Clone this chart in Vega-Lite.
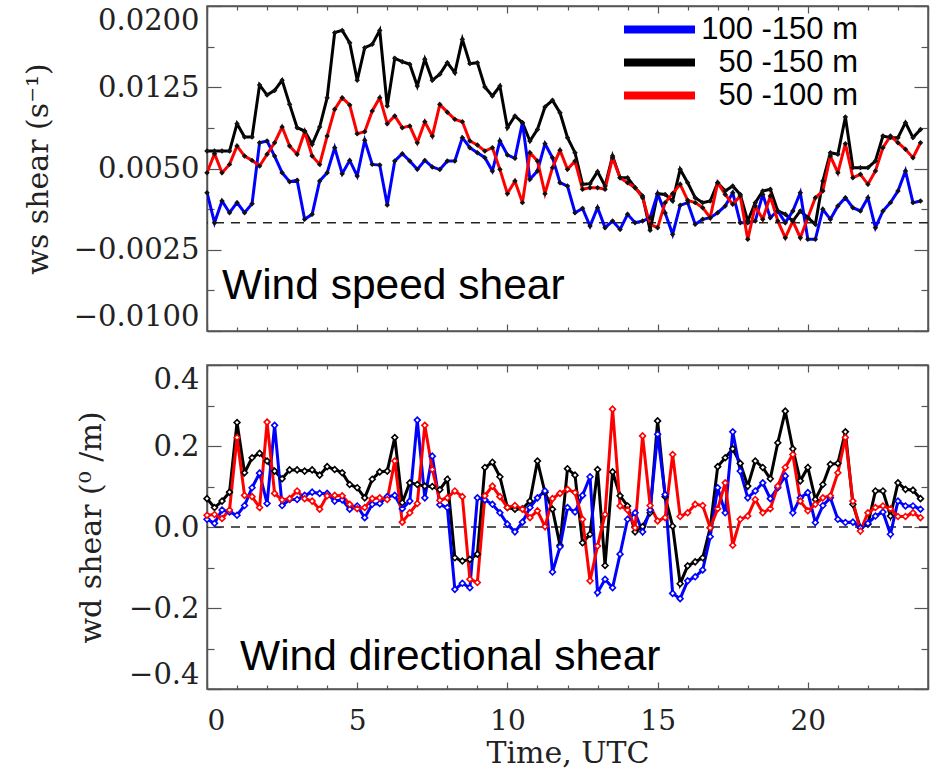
{
  "$schema": "https://vega.github.io/schema/vega-lite/v6.json",
  "background": "white",
  "padding": {"left": 22, "top": 4, "right": 5, "bottom": 5},
  "config": {
    "view": {"stroke": "#555", "strokeWidth": 1.5},
    "axis": {
      "grid": false,
      "domainColor": "#555",
      "domainWidth": 1.5,
      "tickColor": "#555",
      "tickWidth": 1.2,
      "labelFont": "DejaVu Serif",
      "labelFontSize": 29,
      "labelColor": "#222",
      "labelOverlap": false,
      "labelBound": false,
      "titleFont": "DejaVu Serif",
      "titleFontSize": 30,
      "titleFontWeight": "normal",
      "titleColor": "#222"
    }
  },
  "data": {
    "values": [
      {"t":0,"pair":"50 -150 m","ws":0.00661,"wd":0.07},
      {"t":0.25,"pair":"50 -150 m","ws":0.00661,"wd":0.048},
      {"t":0.5,"pair":"50 -150 m","ws":0.00661,"wd":0.064},
      {"t":0.75,"pair":"50 -150 m","ws":0.00661,"wd":0.086},
      {"t":1,"pair":"50 -150 m","ws":0.00914,"wd":0.258},
      {"t":1.25,"pair":"50 -150 m","ws":0.00791,"wd":0.134},
      {"t":1.5,"pair":"50 -150 m","ws":0.00791,"wd":0.171},
      {"t":1.75,"pair":"50 -150 m","ws":0.01271,"wd":0.182},
      {"t":2,"pair":"50 -150 m","ws":0.01178,"wd":0.163},
      {"t":2.25,"pair":"50 -150 m","ws":0.01221,"wd":0.138},
      {"t":2.5,"pair":"50 -150 m","ws":0.01314,"wd":0.119},
      {"t":2.75,"pair":"50 -150 m","ws":0.01092,"wd":0.141},
      {"t":3,"pair":"50 -150 m","ws":0.00877,"wd":0.141},
      {"t":3.25,"pair":"50 -150 m","ws":0.00846,"wd":0.138},
      {"t":3.5,"pair":"50 -150 m","ws":0.00723,"wd":0.141},
      {"t":3.75,"pair":"50 -150 m","ws":0.00883,"wd":0.128},
      {"t":4,"pair":"50 -150 m","ws":0.01154,"wd":0.149},
      {"t":4.25,"pair":"50 -150 m","ws":0.01754,"wd":0.142},
      {"t":4.5,"pair":"50 -150 m","ws":0.01775,"wd":0.134},
      {"t":4.75,"pair":"50 -150 m","ws":0.01661,"wd":0.105},
      {"t":5,"pair":"50 -150 m","ws":0.01314,"wd":0.097},
      {"t":5.25,"pair":"50 -150 m","ws":0.01615,"wd":0.072},
      {"t":5.5,"pair":"50 -150 m","ws":0.01646,"wd":0.118},
      {"t":5.75,"pair":"50 -150 m","ws":0.01775,"wd":0.136},
      {"t":6,"pair":"50 -150 m","ws":0.01077,"wd":0.138},
      {"t":6.25,"pair":"50 -150 m","ws":0.01517,"wd":0.221},
      {"t":6.5,"pair":"50 -150 m","ws":0.01486,"wd":0.06},
      {"t":6.75,"pair":"50 -150 m","ws":0.01462,"wd":0.109},
      {"t":7,"pair":"50 -150 m","ws":0.01261,"wd":0.105},
      {"t":7.25,"pair":"50 -150 m","ws":0.01508,"wd":0.101},
      {"t":7.5,"pair":"50 -150 m","ws":0.01314,"wd":0.1},
      {"t":7.75,"pair":"50 -150 m","ws":0.0137,"wd":0.092},
      {"t":8,"pair":"50 -150 m","ws":0.01477,"wd":0.118},
      {"t":8.25,"pair":"50 -150 m","ws":0.01384,"wd":-0.076},
      {"t":8.5,"pair":"50 -150 m","ws":0.01692,"wd":-0.084},
      {"t":8.75,"pair":"50 -150 m","ws":0.01468,"wd":-0.08},
      {"t":9,"pair":"50 -150 m","ws":0.01477,"wd":-0.067},
      {"t":9.25,"pair":"50 -150 m","ws":0.01252,"wd":0.147},
      {"t":9.5,"pair":"50 -150 m","ws":0.01169,"wd":0.16},
      {"t":9.75,"pair":"50 -150 m","ws":0.01261,"wd":0.124},
      {"t":10,"pair":"50 -150 m","ws":0.00877,"wd":0.048},
      {"t":10.25,"pair":"50 -150 m","ws":0.00985,"wd":0.044},
      {"t":10.5,"pair":"50 -150 m","ws":0.00923,"wd":0.045},
      {"t":10.75,"pair":"50 -150 m","ws":0.00754,"wd":0.064},
      {"t":11,"pair":"50 -150 m","ws":0.00861,"wd":0.163},
      {"t":11.25,"pair":"50 -150 m","ws":0.01068,"wd":0.085},
      {"t":11.5,"pair":"50 -150 m","ws":0.01129,"wd":0.044},
      {"t":11.75,"pair":"50 -150 m","ws":0.01015,"wd":-0.045},
      {"t":12,"pair":"50 -150 m","ws":0.00785,"wd":0.144},
      {"t":12.25,"pair":"50 -150 m","ws":0.00646,"wd":0.128},
      {"t":12.5,"pair":"50 -150 m","ws":0.00354,"wd":-0.039},
      {"t":12.75,"pair":"50 -150 m","ws":0.0036,"wd":-0.018},
      {"t":13,"pair":"50 -150 m","ws":0.00471,"wd":0.142},
      {"t":13.25,"pair":"50 -150 m","ws":0.00338,"wd":-0.095},
      {"t":13.5,"pair":"50 -150 m","ws":0.00615,"wd":0.136},
      {"t":13.75,"pair":"50 -150 m","ws":0.00415,"wd":0.077},
      {"t":14,"pair":"50 -150 m","ws":0.00415,"wd":0.052},
      {"t":14.25,"pair":"50 -150 m","ws":0.00323,"wd":-0.012},
      {"t":14.5,"pair":"50 -150 m","ws":0.00246,"wd":0.001},
      {"t":14.75,"pair":"50 -150 m","ws":-0.0007,"wd":0.035},
      {"t":15,"pair":"50 -150 m","ws":0.00268,"wd":0.262},
      {"t":15.25,"pair":"50 -150 m","ws":0.00261,"wd":0.075},
      {"t":15.5,"pair":"50 -150 m","ws":0.002,"wd":0.002},
      {"t":15.75,"pair":"50 -150 m","ws":0.00492,"wd":-0.14},
      {"t":16,"pair":"50 -150 m","ws":0.00369,"wd":-0.096},
      {"t":16.25,"pair":"50 -150 m","ws":0.00231,"wd":-0.086},
      {"t":16.5,"pair":"50 -150 m","ws":0.00185,"wd":-0.076},
      {"t":16.75,"pair":"50 -150 m","ws":0.002,"wd":-0.002},
      {"t":17,"pair":"50 -150 m","ws":0.00369,"wd":0.149},
      {"t":17.25,"pair":"50 -150 m","ws":0.00292,"wd":0.171},
      {"t":17.5,"pair":"50 -150 m","ws":0.00338,"wd":0.193},
      {"t":17.75,"pair":"50 -150 m","ws":0.00261,"wd":0.157},
      {"t":18,"pair":"50 -150 m","ws":0.00015,"wd":0.101},
      {"t":18.25,"pair":"50 -150 m","ws":0.00185,"wd":0.163},
      {"t":18.5,"pair":"50 -150 m","ws":0.00292,"wd":0.147},
      {"t":18.75,"pair":"50 -150 m","ws":0.00308,"wd":0.119},
      {"t":19,"pair":"50 -150 m","ws":0.00108,"wd":0.208},
      {"t":19.25,"pair":"50 -150 m","ws":0.00077,"wd":0.286},
      {"t":19.5,"pair":"50 -150 m","ws":0.00015,"wd":0.193},
      {"t":19.75,"pair":"50 -150 m","ws":0.00108,"wd":0.114},
      {"t":20,"pair":"50 -150 m","ws":0.00046,"wd":0.147},
      {"t":20.25,"pair":"50 -150 m","ws":-0.00015,"wd":0.068},
      {"t":20.5,"pair":"50 -150 m","ws":0.00385,"wd":0.105},
      {"t":20.75,"pair":"50 -150 m","ws":0.00646,"wd":0.155},
      {"t":21,"pair":"50 -150 m","ws":0.00631,"wd":0.157},
      {"t":21.25,"pair":"50 -150 m","ws":0.00975,"wd":0.235},
      {"t":21.5,"pair":"50 -150 m","ws":0.00508,"wd":0.056},
      {"t":21.75,"pair":"50 -150 m","ws":0.00508,"wd":-0.002},
      {"t":22,"pair":"50 -150 m","ws":0.00508,"wd":0.007},
      {"t":22.25,"pair":"50 -150 m","ws":0.00569,"wd":0.089},
      {"t":22.5,"pair":"50 -150 m","ws":0.008,"wd":0.089},
      {"t":22.75,"pair":"50 -150 m","ws":0.00785,"wd":0.027},
      {"t":23,"pair":"50 -150 m","ws":0.00785,"wd":0.109},
      {"t":23.25,"pair":"50 -150 m","ws":0.00923,"wd":0.093},
      {"t":23.5,"pair":"50 -150 m","ws":0.00785,"wd":0.091},
      {"t":23.75,"pair":"50 -150 m","ws":0.00861,"wd":0.07},

      {"t":0,"pair":"100 -150 m","ws":0.00277,"wd":0.019},
      {"t":0.25,"pair":"100 -150 m","ws":0.0,"wd":0.009},
      {"t":0.5,"pair":"100 -150 m","ws":0.002,"wd":0.042},
      {"t":0.75,"pair":"100 -150 m","ws":0.00092,"wd":0.037},
      {"t":1,"pair":"100 -150 m","ws":0.00185,"wd":0.029},
      {"t":1.25,"pair":"100 -150 m","ws":0.00092,"wd":0.053},
      {"t":1.5,"pair":"100 -150 m","ws":0.00175,"wd":0.097},
      {"t":1.75,"pair":"100 -150 m","ws":0.00738,"wd":0.133},
      {"t":2,"pair":"100 -150 m","ws":0.00754,"wd":0.058},
      {"t":2.25,"pair":"100 -150 m","ws":0.00615,"wd":0.251},
      {"t":2.5,"pair":"100 -150 m","ws":0.00461,"wd":0.053},
      {"t":2.75,"pair":"100 -150 m","ws":0.00378,"wd":0.068},
      {"t":3,"pair":"100 -150 m","ws":0.00391,"wd":0.068},
      {"t":3.25,"pair":"100 -150 m","ws":0.00031,"wd":0.078},
      {"t":3.5,"pair":"100 -150 m","ws":0.00077,"wd":0.086},
      {"t":3.75,"pair":"100 -150 m","ws":0.00385,"wd":0.083},
      {"t":4,"pair":"100 -150 m","ws":0.00461,"wd":0.083},
      {"t":4.25,"pair":"100 -150 m","ws":0.00692,"wd":0.064},
      {"t":4.5,"pair":"100 -150 m","ws":0.00452,"wd":0.067},
      {"t":4.75,"pair":"100 -150 m","ws":0.00575,"wd":0.044},
      {"t":5,"pair":"100 -150 m","ws":0.00431,"wd":0.052},
      {"t":5.25,"pair":"100 -150 m","ws":0.0076,"wd":0.023},
      {"t":5.5,"pair":"100 -150 m","ws":0.00538,"wd":0.056},
      {"t":5.75,"pair":"100 -150 m","ws":0.00532,"wd":0.058},
      {"t":6,"pair":"100 -150 m","ws":0.00163,"wd":0.075},
      {"t":6.25,"pair":"100 -150 m","ws":0.00569,"wd":0.078},
      {"t":6.5,"pair":"100 -150 m","ws":0.00637,"wd":0.045},
      {"t":6.75,"pair":"100 -150 m","ws":0.00569,"wd":0.064},
      {"t":7,"pair":"100 -150 m","ws":0.00492,"wd":0.264},
      {"t":7.25,"pair":"100 -150 m","ws":0.00575,"wd":0.072},
      {"t":7.5,"pair":"100 -150 m","ws":0.00514,"wd":0.175},
      {"t":7.75,"pair":"100 -150 m","ws":0.0049,"wd":0.055},
      {"t":8,"pair":"100 -150 m","ws":0.0057,"wd":0.048},
      {"t":8.25,"pair":"100 -150 m","ws":0.00569,"wd":-0.154},
      {"t":8.5,"pair":"100 -150 m","ws":0.00785,"wd":-0.139},
      {"t":8.75,"pair":"100 -150 m","ws":0.00692,"wd":-0.15},
      {"t":9,"pair":"100 -150 m","ws":0.00646,"wd":0.072},
      {"t":9.25,"pair":"100 -150 m","ws":0.006,"wd":0.067},
      {"t":9.5,"pair":"100 -150 m","ws":0.00477,"wd":0.056},
      {"t":9.75,"pair":"100 -150 m","ws":0.00754,"wd":0.035},
      {"t":10,"pair":"100 -150 m","ws":0.00625,"wd":0.007},
      {"t":10.25,"pair":"100 -150 m","ws":0.00594,"wd":-0.012},
      {"t":10.5,"pair":"100 -150 m","ws":0.00923,"wd":0.012},
      {"t":10.75,"pair":"100 -150 m","ws":0.004,"wd":0.048},
      {"t":11,"pair":"100 -150 m","ws":0.00477,"wd":0.072},
      {"t":11.25,"pair":"100 -150 m","ws":0.00729,"wd":0.089},
      {"t":11.5,"pair":"100 -150 m","ws":0.006,"wd":-0.111},
      {"t":11.75,"pair":"100 -150 m","ws":0.00369,"wd":-0.049},
      {"t":12,"pair":"100 -150 m","ws":0.00338,"wd":0.048},
      {"t":12.25,"pair":"100 -150 m","ws":0.00092,"wd":0.037},
      {"t":12.5,"pair":"100 -150 m","ws":0.00132,"wd":0.078},
      {"t":12.75,"pair":"100 -150 m","ws":-0.00031,"wd":0.124},
      {"t":13,"pair":"100 -150 m","ws":0.00138,"wd":-0.162},
      {"t":13.25,"pair":"100 -150 m","ws":-0.00046,"wd":-0.129},
      {"t":13.5,"pair":"100 -150 m","ws":0.00015,"wd":-0.15},
      {"t":13.75,"pair":"100 -150 m","ws":-0.00062,"wd":-0.067},
      {"t":14,"pair":"100 -150 m","ws":0.00077,"wd":0.019},
      {"t":14.25,"pair":"100 -150 m","ws":0.0,"wd":0.035},
      {"t":14.5,"pair":"100 -150 m","ws":0.00015,"wd":-0.012},
      {"t":14.75,"pair":"100 -150 m","ws":0.00046,"wd":0.042},
      {"t":15,"pair":"100 -150 m","ws":0.00268,"wd":0.229},
      {"t":15.25,"pair":"100 -150 m","ws":0.0009,"wd":0.08},
      {"t":15.5,"pair":"100 -150 m","ws":-0.00108,"wd":-0.164},
      {"t":15.75,"pair":"100 -150 m","ws":0.0016,"wd":-0.177},
      {"t":16,"pair":"100 -150 m","ws":0.00185,"wd":-0.133},
      {"t":16.25,"pair":"100 -150 m","ws":-0.00015,"wd":-0.123},
      {"t":16.5,"pair":"100 -150 m","ws":0.00031,"wd":-0.106},
      {"t":16.75,"pair":"100 -150 m","ws":0.00046,"wd":-0.024},
      {"t":17,"pair":"100 -150 m","ws":0.00092,"wd":0.097},
      {"t":17.25,"pair":"100 -150 m","ws":0.00154,"wd":0.035},
      {"t":17.5,"pair":"100 -150 m","ws":0.00277,"wd":0.235},
      {"t":17.75,"pair":"100 -150 m","ws":0.0,"wd":0.138},
      {"t":18,"pair":"100 -150 m","ws":0.0,"wd":0.072},
      {"t":18.25,"pair":"100 -150 m","ws":0.00015,"wd":0.089},
      {"t":18.5,"pair":"100 -150 m","ws":0.00261,"wd":0.109},
      {"t":18.75,"pair":"100 -150 m","ws":0.00046,"wd":0.07},
      {"t":19,"pair":"100 -150 m","ws":0.00108,"wd":0.097},
      {"t":19.25,"pair":"100 -150 m","ws":0.0,"wd":0.126},
      {"t":19.5,"pair":"100 -150 m","ws":0.00108,"wd":0.035},
      {"t":19.75,"pair":"100 -150 m","ws":0.00277,"wd":0.072},
      {"t":20,"pair":"100 -150 m","ws":-0.00154,"wd":0.085},
      {"t":20.25,"pair":"100 -150 m","ws":-0.00154,"wd":0.011},
      {"t":20.5,"pair":"100 -150 m","ws":0.00123,"wd":0.053},
      {"t":20.75,"pair":"100 -150 m","ws":0.00031,"wd":0.072},
      {"t":21,"pair":"100 -150 m","ws":0.00154,"wd":0.019},
      {"t":21.25,"pair":"100 -150 m","ws":0.00231,"wd":0.011},
      {"t":21.5,"pair":"100 -150 m","ws":0.00138,"wd":0.012},
      {"t":21.75,"pair":"100 -150 m","ws":0.00108,"wd":-0.002},
      {"t":22,"pair":"100 -150 m","ws":0.00231,"wd":0.009},
      {"t":22.25,"pair":"100 -150 m","ws":-0.00046,"wd":0.027},
      {"t":22.5,"pair":"100 -150 m","ws":0.00108,"wd":0.037},
      {"t":22.75,"pair":"100 -150 m","ws":0.00185,"wd":-0.018},
      {"t":23,"pair":"100 -150 m","ws":0.00292,"wd":0.064},
      {"t":23.25,"pair":"100 -150 m","ws":0.00477,"wd":0.052},
      {"t":23.5,"pair":"100 -150 m","ws":0.00185,"wd":0.052},
      {"t":23.75,"pair":"100 -150 m","ws":0.002,"wd":0.044},

      {"t":0,"pair":"50 -100 m","ws":0.00461,"wd":0.029},
      {"t":0.25,"pair":"50 -100 m","ws":0.00637,"wd":0.031},
      {"t":0.5,"pair":"50 -100 m","ws":0.00461,"wd":0.021},
      {"t":0.75,"pair":"50 -100 m","ws":0.00538,"wd":0.042},
      {"t":1,"pair":"50 -100 m","ws":0.00708,"wd":0.221},
      {"t":1.25,"pair":"50 -100 m","ws":0.00615,"wd":0.078},
      {"t":1.5,"pair":"50 -100 m","ws":0.00575,"wd":0.075},
      {"t":1.75,"pair":"50 -100 m","ws":0.00523,"wd":0.048},
      {"t":2,"pair":"50 -100 m","ws":0.00631,"wd":0.259},
      {"t":2.25,"pair":"50 -100 m","ws":0.00738,"wd":0.083},
      {"t":2.5,"pair":"50 -100 m","ws":0.00883,"wd":0.067},
      {"t":2.75,"pair":"50 -100 m","ws":0.00708,"wd":0.07},
      {"t":3,"pair":"50 -100 m","ws":0.00631,"wd":0.089},
      {"t":3.25,"pair":"50 -100 m","ws":0.0084,"wd":0.07},
      {"t":3.5,"pair":"50 -100 m","ws":0.00615,"wd":0.064},
      {"t":3.75,"pair":"50 -100 m","ws":0.00538,"wd":0.044},
      {"t":4,"pair":"50 -100 m","ws":0.008,"wd":0.077},
      {"t":4.25,"pair":"50 -100 m","ws":0.01046,"wd":0.078},
      {"t":4.5,"pair":"50 -100 m","ws":0.01154,"wd":0.077},
      {"t":4.75,"pair":"50 -100 m","ws":0.01086,"wd":0.056},
      {"t":5,"pair":"50 -100 m","ws":0.00821,"wd":0.045},
      {"t":5.25,"pair":"50 -100 m","ws":0.0084,"wd":0.048},
      {"t":5.5,"pair":"50 -100 m","ws":0.01031,"wd":0.07},
      {"t":5.75,"pair":"50 -100 m","ws":0.01154,"wd":0.072},
      {"t":6,"pair":"50 -100 m","ws":0.00914,"wd":0.068},
      {"t":6.25,"pair":"50 -100 m","ws":0.00985,"wd":0.163},
      {"t":6.5,"pair":"50 -100 m","ws":0.00877,"wd":0.012},
      {"t":6.75,"pair":"50 -100 m","ws":0.00892,"wd":0.035},
      {"t":7,"pair":"50 -100 m","ws":0.00738,"wd":0.058},
      {"t":7.25,"pair":"50 -100 m","ws":0.00932,"wd":0.251},
      {"t":7.5,"pair":"50 -100 m","ws":0.008,"wd":0.142},
      {"t":7.75,"pair":"50 -100 m","ws":0.0109,"wd":0.066},
      {"t":8,"pair":"50 -100 m","ws":0.0102,"wd":0.072},
      {"t":8.25,"pair":"50 -100 m","ws":0.00954,"wd":0.089},
      {"t":8.5,"pair":"50 -100 m","ws":0.00932,"wd":0.075},
      {"t":8.75,"pair":"50 -100 m","ws":0.00754,"wd":-0.129},
      {"t":9,"pair":"50 -100 m","ws":0.00717,"wd":-0.137},
      {"t":9.25,"pair":"50 -100 m","ws":0.00661,"wd":0.077},
      {"t":9.5,"pair":"50 -100 m","ws":0.00692,"wd":0.101},
      {"t":9.75,"pair":"50 -100 m","ws":0.00492,"wd":0.075},
      {"t":10,"pair":"50 -100 m","ws":0.00268,"wd":0.048},
      {"t":10.25,"pair":"50 -100 m","ws":0.00385,"wd":0.053},
      {"t":10.5,"pair":"50 -100 m","ws":0.00185,"wd":0.044},
      {"t":10.75,"pair":"50 -100 m","ws":0.00646,"wd":0.023},
      {"t":11,"pair":"50 -100 m","ws":0.00569,"wd":0.04},
      {"t":11.25,"pair":"50 -100 m","ws":0.00268,"wd":0.001},
      {"t":11.5,"pair":"50 -100 m","ws":0.00508,"wd":0.07},
      {"t":11.75,"pair":"50 -100 m","ws":0.00668,"wd":0.083},
      {"t":12,"pair":"50 -100 m","ws":0.00492,"wd":0.093},
      {"t":12.25,"pair":"50 -100 m","ws":0.00569,"wd":0.085},
      {"t":12.5,"pair":"50 -100 m","ws":0.00308,"wd":0.019},
      {"t":12.75,"pair":"50 -100 m","ws":0.00323,"wd":-0.133},
      {"t":13,"pair":"50 -100 m","ws":0.00323,"wd":-0.047},
      {"t":13.25,"pair":"50 -100 m","ws":0.00308,"wd":0.031},
      {"t":13.5,"pair":"50 -100 m","ws":0.006,"wd":0.291},
      {"t":13.75,"pair":"50 -100 m","ws":0.00415,"wd":0.052},
      {"t":14,"pair":"50 -100 m","ws":0.00369,"wd":0.042},
      {"t":14.25,"pair":"50 -100 m","ws":0.00323,"wd":-0.002},
      {"t":14.5,"pair":"50 -100 m","ws":0.00231,"wd":0.225},
      {"t":14.75,"pair":"50 -100 m","ws":-0.00015,"wd":0.053},
      {"t":15,"pair":"50 -100 m","ws":-0.00046,"wd":0.015},
      {"t":15.25,"pair":"50 -100 m","ws":0.00185,"wd":0.023},
      {"t":15.5,"pair":"50 -100 m","ws":0.0027,"wd":0.179},
      {"t":15.75,"pair":"50 -100 m","ws":0.00354,"wd":0.026},
      {"t":16,"pair":"50 -100 m","ws":0.00206,"wd":0.035},
      {"t":16.25,"pair":"50 -100 m","ws":0.00185,"wd":0.056},
      {"t":16.5,"pair":"50 -100 m","ws":0.00138,"wd":0.053},
      {"t":16.75,"pair":"50 -100 m","ws":0.00046,"wd":-0.002},
      {"t":17,"pair":"50 -100 m","ws":0.00369,"wd":0.045},
      {"t":17.25,"pair":"50 -100 m","ws":0.00261,"wd":0.109},
      {"t":17.5,"pair":"50 -100 m","ws":0.00169,"wd":-0.045},
      {"t":17.75,"pair":"50 -100 m","ws":0.00246,"wd":0.019},
      {"t":18,"pair":"50 -100 m","ws":-0.00154,"wd":0.027},
      {"t":18.25,"pair":"50 -100 m","ws":0.00154,"wd":0.068},
      {"t":18.5,"pair":"50 -100 m","ws":0.00031,"wd":0.035},
      {"t":18.75,"pair":"50 -100 m","ws":0.00246,"wd":0.045},
      {"t":19,"pair":"50 -100 m","ws":0.00015,"wd":0.101},
      {"t":19.25,"pair":"50 -100 m","ws":-0.00139,"wd":0.147},
      {"t":19.5,"pair":"50 -100 m","ws":0.00015,"wd":0.179},
      {"t":19.75,"pair":"50 -100 m","ws":-0.00139,"wd":0.064},
      {"t":20,"pair":"50 -100 m","ws":0.00046,"wd":0.04},
      {"t":20.25,"pair":"50 -100 m","ws":0.00231,"wd":0.056},
      {"t":20.5,"pair":"50 -100 m","ws":0.00292,"wd":0.072},
      {"t":20.75,"pair":"50 -100 m","ws":0.00615,"wd":0.077},
      {"t":21,"pair":"50 -100 m","ws":0.00461,"wd":0.134},
      {"t":21.25,"pair":"50 -100 m","ws":0.00729,"wd":0.221},
      {"t":21.5,"pair":"50 -100 m","ws":0.00415,"wd":0.064},
      {"t":21.75,"pair":"50 -100 m","ws":0.00446,"wd":-0.01},
      {"t":22,"pair":"50 -100 m","ws":0.00354,"wd":0.035},
      {"t":22.25,"pair":"50 -100 m","ws":0.00477,"wd":0.048},
      {"t":22.5,"pair":"50 -100 m","ws":0.00692,"wd":0.052},
      {"t":22.75,"pair":"50 -100 m","ws":0.008,"wd":0.045},
      {"t":23,"pair":"50 -100 m","ws":0.00738,"wd":0.026},
      {"t":23.25,"pair":"50 -100 m","ws":0.00677,"wd":0.026},
      {"t":23.5,"pair":"50 -100 m","ws":0.006,"wd":0.035},
      {"t":23.75,"pair":"50 -100 m","ws":0.00738,"wd":0.023}
    ]
  },
  "spacing": 30,
  "vconcat": [
    {
      "width": 721,
      "height": 325,
      "layer": [
        {
          "data": {"values": [{}]},
          "mark": {"type": "rule", "strokeDash": [9, 7], "strokeWidth": 1.5, "color": "#222"},
          "encoding": {
            "y": {"datum": 0, "type": "quantitative", "scale": {"domain": [-0.01, 0.02], "nice": false, "zero": false}, "axis": null}
          }
        },
        {
          "mark": {"type": "line", "strokeWidth": 3, "clip": true},
          "encoding": {
            "x": {
              "field": "t", "type": "quantitative",
              "scale": {"domain": [0, 24], "nice": false, "zero": false},
              "axis": {
                "orient": "bottom", "title": null, "labels": false,
                "values": [0,1,2,3,4,5,6,7,8,9,10,11,12,13,14,15,16,17,18,19,20,21,22,23,24],
                "tickSize": {"condition": {"test": "datum.value % 5 == 0", "value": -7}, "value": -4}
              }
            },
            "y": {
              "field": "ws", "type": "quantitative",
              "axis": {
                "orient": "left",
                "title": "ws shear (s⁻¹)",
                "titlePadding": 20,
                "values": [-0.01, -0.00625, -0.0025, 0.00125, 0.005, 0.00875, 0.0125, 0.01625, 0.02],
                "format": ".4f",
                "labelFlush": true,
                "labelPadding": 22,
                "labelExpr": "abs((datum.value + 0.01) / 0.0075 - round((datum.value + 0.01) / 0.0075)) < 0.01 ? datum.label : ''",
                "tickSize": {"condition": {"test": "abs((datum.value + 0.01) / 0.0075 - round((datum.value + 0.01) / 0.0075)) < 0.01", "value": -14}, "value": -7}
              }
            },
            "color": {
              "field": "pair", "type": "nominal",
              "scale": {"domain": ["100 -150 m", "50 -150 m", "50 -100 m"], "range": ["#0000ff", "#000000", "#ff0000"]},
              "legend": {
                "orient": "none", "legendX": 413, "legendY": 7,
                "title": null, "padding": 0,
                "symbolType": "stroke", "symbolStrokeWidth": 8, "symbolSize": 5041,
                "clipHeight": 33,
                "labelFont": "Liberation Sans", "labelFontSize": 31, "labelColor": "black",
                "labelAlign": "right", "labelOffset": 159, "labelLimit": 0, "rowPadding": 0
              }
            }
          }
        },
        {
          "mark": {"type": "point", "shape": "diamond", "filled": true, "size": 30, "color": "#111", "opacity": 1},
          "encoding": {
            "x": {
              "field": "t", "type": "quantitative",
              "axis": {
                "orient": "top", "title": null, "labels": false,
                "values": [0,1,2,3,4,5,6,7,8,9,10,11,12,13,14,15,16,17,18,19,20,21,22,23,24],
                "tickSize": {"condition": {"test": "datum.value % 5 == 0", "value": -7}, "value": -4}
              }
            },
            "y": {
              "field": "ws", "type": "quantitative",
              "axis": {
                "orient": "right", "title": null, "labels": false,
                "values": [-0.01, -0.00625, -0.0025, 0.00125, 0.005, 0.00875, 0.0125, 0.01625, 0.02],
                "tickSize": {"condition": {"test": "abs((datum.value + 0.01) / 0.0075 - round((datum.value + 0.01) / 0.0075)) < 0.01", "value": -14}, "value": -7}
              }
            }
          }
        },
        {
          "data": {"values": [{}]},
          "mark": {"type": "text", "text": "Wind speed shear", "align": "left", "baseline": "alphabetic", "font": "Liberation Sans", "fontSize": 42.5, "color": "black"},
          "encoding": {
            "x": {"datum": 0.5, "type": "quantitative", "axis": null},
            "y": {"datum": -0.00705, "type": "quantitative", "axis": null}
          }
        }
      ],
      "resolve": {"axis": {"x": "independent", "y": "independent"}}
    },
    {
      "width": 721,
      "height": 324,
      "layer": [
        {
          "data": {"values": [{}]},
          "mark": {"type": "rule", "strokeDash": [9, 7], "strokeWidth": 1.5, "color": "#222"},
          "encoding": {
            "y": {"datum": 0, "type": "quantitative", "scale": {"domain": [-0.4, 0.4], "nice": false, "zero": false}, "axis": null}
          }
        },
        {
          "mark": {"type": "line", "strokeWidth": 3, "clip": true},
          "encoding": {
            "x": {
              "field": "t", "type": "quantitative",
              "scale": {"domain": [0, 24], "nice": false, "zero": false},
              "axis": {
                "orient": "bottom", "title": "Time, UTC", "titlePadding": 0,
                "values": [0,1,2,3,4,5,6,7,8,9,10,11,12,13,14,15,16,17,18,19,20,21,22,23,24],
                "format": "d",
                "labelFontSize": 28,
                "labelPadding": 25,
                "labelExpr": "datum.value % 5 == 0 && datum.value < 24 ? datum.label : ''",
                "tickSize": {"condition": {"test": "datum.value % 5 == 0", "value": -7}, "value": -4}
              }
            },
            "y": {
              "field": "wd", "type": "quantitative",
              "axis": {
                "orient": "left",
                "title": "wd shear (⁰ /m)",
                "titlePadding": 22,
                "values": [-0.4, -0.3, -0.2, -0.1, 0, 0.1, 0.2, 0.3, 0.4],
                "format": ".1f",
                "labelFlush": true,
                "labelPadding": 22,
                "labelExpr": "abs(datum.value / 0.2 - round(datum.value / 0.2)) < 0.01 ? datum.label : ''",
                "tickSize": {"condition": {"test": "abs(datum.value / 0.2 - round(datum.value / 0.2)) < 0.01", "value": -14}, "value": -7}
              }
            },
            "color": {
              "field": "pair", "type": "nominal",
              "scale": {"domain": ["100 -150 m", "50 -150 m", "50 -100 m"], "range": ["#0000ff", "#000000", "#ff0000"]},
              "legend": null
            }
          }
        },
        {
          "mark": {"type": "point", "shape": "diamond", "filled": false, "fill": "white", "size": 34, "strokeWidth": 1.6, "opacity": 1},
          "encoding": {
            "x": {
              "field": "t", "type": "quantitative",
              "axis": {
                "orient": "top", "title": null, "labels": false,
                "values": [0,1,2,3,4,5,6,7,8,9,10,11,12,13,14,15,16,17,18,19,20,21,22,23,24],
                "tickSize": {"condition": {"test": "datum.value % 5 == 0", "value": -7}, "value": -4}
              }
            },
            "y": {
              "field": "wd", "type": "quantitative",
              "axis": {
                "orient": "right", "title": null, "labels": false,
                "values": [-0.4, -0.3, -0.2, -0.1, 0, 0.1, 0.2, 0.3, 0.4],
                "tickSize": {"condition": {"test": "abs(datum.value / 0.2 - round(datum.value / 0.2)) < 0.01", "value": -14}, "value": -7}
              }
            },
            "color": {"field": "pair", "type": "nominal", "legend": null}
          }
        },
        {
          "data": {"values": [{}]},
          "mark": {"type": "text", "text": "Wind directional shear", "align": "left", "baseline": "alphabetic", "font": "Liberation Sans", "fontSize": 42.5, "color": "black"},
          "encoding": {
            "x": {"datum": 1.1, "type": "quantitative", "axis": null},
            "y": {"datum": -0.353, "type": "quantitative", "axis": null}
          }
        }
      ],
      "resolve": {"axis": {"x": "independent", "y": "independent"}}
    }
  ],
  "resolve": {"scale": {"color": "independent"}, "legend": {"color": "independent"}}
}
